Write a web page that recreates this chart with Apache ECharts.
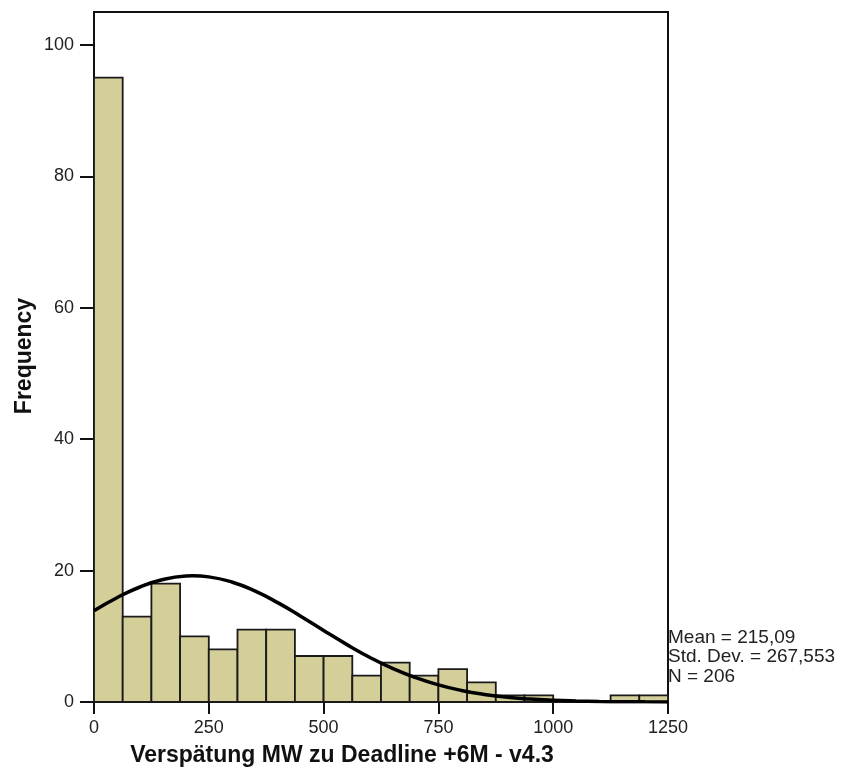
<!DOCTYPE html>
<html>
<head>
<meta charset="utf-8">
<script src="https://cdn.jsdelivr.net/npm/echarts@6/dist/echarts.min.js"></script>
<style>html,body{margin:0;padding:0;background:#fff}#c{width:843px;height:771px}</style>
</head>
<body>
<div id="c"></div>
<script>
// Histogram data (bin width 62.5, starting at 0)
const binWidth = 62.5;
const counts = [95, 13, 18, 10, 8, 11, 11, 7, 7, 4, 6, 4, 5, 3, 1, 1, 0, 0, 1, 1];
// Normal curve points
const curveX = [0, 50, 100, 150, 200, 215, 250, 300, 350, 400, 450, 500, 550, 600, 650, 700, 750, 800, 850, 900, 950, 1000, 1050, 1100, 1150, 1200, 1250];
const curveY = [13.9, 15.87, 17.5, 18.64, 19.17, 19.2, 19.04, 18.26, 16.91, 15.12, 13.06, 10.89, 8.77, 6.82, 5.12, 3.72, 2.6, 1.76, 1.15, 0.73, 0.44, 0.26, 0.15, 0.08, 0.04, 0.02, 0.01];
const xTicks = [0, 250, 500, 750, 1000, 1250];
const yTicks = [0, 20, 40, 60, 80, 100];
const statsLines = ['Mean = 215,09', 'Std. Dev. = 267,553', 'N = 206'];
const xTitle = 'Verspätung MW zu Deadline +6M - v4.3';
const yTitle = 'Frequency';

const barData = counts.map((c, i) => [i * binWidth, (i + 1) * binWidth, c]);
const font = 'Liberation Sans, Arial, sans-serif';

const chart = echarts.init(document.getElementById('c'));
chart.setOption({
  animation: false,
  grid: { left: 94, right: 175, top: 12, bottom: 69, show: true, borderColor: '#111', borderWidth: 2, backgroundColor: 'transparent' },
  xAxis: {
    type: 'value', min: 0, max: 1250,
    axisLine: { show: true, onZero: false, lineStyle: { color: '#111', width: 2 } },
    axisTick: { show: true, inside: false, length: 12, customValues: xTicks, lineStyle: { color: '#111', width: 2 } },
    axisLabel: { color: '#222', fontSize: 18, fontFamily: font, margin: 17, customValues: xTicks, formatter: v => String(v) },
    splitLine: { show: false }
  },
  yAxis: {
    type: 'value', min: 0, max: 105,
    axisLine: { show: true, lineStyle: { color: '#111', width: 2 } },
    axisTick: { show: true, inside: false, length: 14, customValues: yTicks, lineStyle: { color: '#111', width: 2 } },
    axisLabel: { color: '#222', fontSize: 18, fontFamily: font, margin: 20, customValues: yTicks, formatter: v => String(v) },
    splitLine: { show: false }
  },
  series: [
    {
      type: 'custom',
      data: barData,
      encode: { x: [0, 1], y: 2 },
      renderItem: function (params, api) {
        const p0 = api.coord([api.value(0), api.value(2)]);
        const p1 = api.coord([api.value(1), 0]);
        return {
          type: 'rect',
          shape: { x: p0[0], y: p0[1], width: p1[0] - p0[0], height: p1[1] - p0[1] },
          style: { fill: '#d4cf98', stroke: '#1a1a1a', lineWidth: 1.8 }
        };
      },
      z: 2
    },
    {
      type: 'line',
      data: curveX.map((x, i) => [x, curveY[i]]),
      smooth: true,
      showSymbol: false,
      lineStyle: { color: '#000', width: 3.5 },
      z: 3
    }
  ],
  graphic: [
    { type: 'text', left: 668, top: 628, style: { text: statsLines.join('\n'), fontSize: 19, lineHeight: 19.5, fontFamily: font, fill: '#222' } },
    { type: 'text', x: 342, y: 756, style: { text: xTitle, fontSize: 23, fontWeight: 'bold', fontFamily: font, fill: '#111', align: 'center', verticalAlign: 'middle' } },
    { type: 'text', x: 25, y: 356, rotation: Math.PI / 2, style: { text: yTitle, fontSize: 23, fontWeight: 'bold', fontFamily: font, fill: '#111', align: 'center', verticalAlign: 'middle' } }
  ]
});
</script>
</body>
</html>
